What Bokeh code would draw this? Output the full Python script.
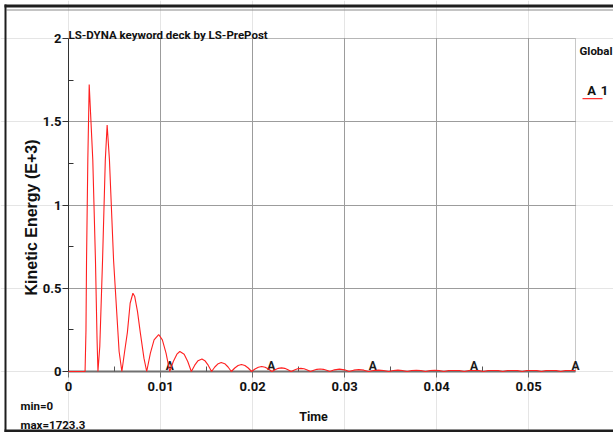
import math

from bokeh.core.properties import value
from bokeh.embed import file_html
from bokeh.models import (BoxAnnotation, ColumnDataSource, CustomJSTickFormatter,
                          FixedTicker, Grid, Label, LabelSet, LinearAxis, Range1d)
from bokeh.plotting import figure
from bokeh.resources import INLINE

# Kinetic energy history (E+3) against time (s)
time_s = [
    0.0, 0.0018, 0.0019, 0.00196, 0.0021, 0.00225, 0.0024, 0.00264, 0.00293, 0.0031, 0.0032,
    0.0034, 0.0037, 0.0040, 0.0042, 0.00445, 0.0049, 0.0055, 0.0058,
    0.0061, 0.0064, 0.0067, 0.0070, 0.0072, 0.0075, 0.0078, 0.0082, 0.0085,
    0.0089, 0.0093, 0.0098, 0.0102, 0.0106, 0.0110,
    0.01139, 0.01178, 0.0121, 0.01257, 0.01296, 0.01335,
    0.01372, 0.01408, 0.0145, 0.01482, 0.01518, 0.01555,
    0.0159, 0.01627, 0.0166, 0.01698, 0.01734, 0.0177,
    0.01807, 0.01843, 0.0188, 0.01917, 0.01953, 0.0199,
    0.02027, 0.02063, 0.0210, 0.02137, 0.02173, 0.0221,
    0.02245, 0.0228, 0.02315, 0.0235, 0.02385, 0.0242,
    0.02455, 0.0249, 0.02525, 0.0256, 0.02595, 0.0263,
    0.02665, 0.0270, 0.02735, 0.0277, 0.02805, 0.0284,
    0.0289, 0.02945, 0.0300, 0.0305,
    0.0310, 0.03155, 0.0321, 0.0326,
    0.03315, 0.0337, 0.03425, 0.0348,
    0.0353, 0.0358, 0.0363, 0.0368,
    0.0373, 0.0378, 0.0383, 0.0388,
    0.0393, 0.0398, 0.0403, 0.0408,
    0.0413, 0.0419, 0.0425, 0.0430,
    0.0435, 0.04405, 0.0446, 0.0451,
    0.0456, 0.04615, 0.0467, 0.0472,
    0.0477, 0.04825, 0.0488, 0.0493,
    0.0498, 0.05035, 0.0509, 0.0514,
    0.0519, 0.05245, 0.0530, 0.0535,
    0.0540, 0.0545, 0.0550, 0.0551,
]
kinetic_energy = [
    0.0, 0.0, 0.25, 0.667, 1.27, 1.7233, 1.55, 1.27, 0.667, 0.2, 0.0,
    0.15, 0.667, 1.27, 1.48, 1.27, 0.667, 0.12, 0.0,
    0.12, 0.235, 0.41, 0.47, 0.45, 0.36, 0.235, 0.08, 0.0,
    0.11, 0.19, 0.222, 0.19, 0.11, 0.0,
    0.06, 0.104, 0.12, 0.104, 0.06, 0.0,
    0.038, 0.065, 0.075, 0.065, 0.038, 0.0,
    0.027, 0.047, 0.054, 0.047, 0.027, 0.0,
    0.021, 0.036, 0.042, 0.036, 0.021, 0.0,
    0.015, 0.026, 0.030, 0.026, 0.015, 0.0,
    0.011, 0.019, 0.022, 0.019, 0.011, 0.0,
    0.0095, 0.0165, 0.019, 0.0165, 0.0095, 0.0,
    0.0075, 0.013, 0.015, 0.013, 0.0075, 0.0,
    0.010, 0.014, 0.010, 0.0,
    0.008, 0.011, 0.008, 0.0,
    0.006, 0.008, 0.006, 0.0,
    0.006, 0.008, 0.006, 0.0,
    0.006, 0.007, 0.006, 0.0,
    0.006, 0.007, 0.006, 0.0,
    0.006, 0.006, 0.006, 0.0,
    0.006, 0.006, 0.006, 0.0,
    0.006, 0.006, 0.006, 0.0,
    0.006, 0.006, 0.006, 0.0,
    0.006, 0.006, 0.006, 0.0,
    0.006, 0.006, 0.006, 0.0,
    0.006, 0.006, 0.006, 0.004,
]

# Curve identifier marks along the time axis
marker_time = [0.01102, 0.02204, 0.03306, 0.04408, 0.0551]
marker_text = ["A", "A", "A", "A", "A"]

x_ticks = [0.0, 0.01, 0.02, 0.03, 0.04, 0.05]
x_minor_ticks = [0.005, 0.015, 0.025, 0.035, 0.045]
y_ticks = [0.0, 0.5, 1.0, 1.5, 2.0]
y_minor_ticks = [0.25, 0.75, 1.25, 1.75]
x_max = 0.0551
y_max = 2.0

title_text = "LS-DYNA keyword deck by LS-PrePost"
x_title = "Time"
y_title = "Kinetic Energy (E+3)"
legend_title = "Global"
curve_id = "A"
curve_name = "1"
min_text = "min=0"
max_text = "max=1723.3"

# page geometry (pixels): the frame covers the whole page and the data box sits inside it
W, H = 613, 432
BOX_L, BOX_R, BOX_T, BOX_B = 68, 575, 38, 371
NARROW = "Roboto"
WIDE = "Liberation Sans"

x_scale = (BOX_R - BOX_L) / x_max
y_scale = (BOX_B - BOX_T) / y_max

p = figure(width=W, height=H, output_backend="svg", toolbar_location=None, title=None,
           x_axis_location=None, y_axis_location=None,
           x_range=Range1d(-BOX_L / x_scale, (W - BOX_L) / x_scale),
           y_range=Range1d(-(H - BOX_B) / y_scale, BOX_B / y_scale),
           min_border=0, min_border_left=0, min_border_right=0,
           min_border_top=0, min_border_bottom=0,
           background_fill_color="white", border_fill_color="white")
p.outline_line_color = None

fmt = CustomJSTickFormatter(code="return tick.toString();")

xa = LinearAxis(fixed_location=0, bounds=(0, x_max), formatter=fmt,
                ticker=FixedTicker(ticks=x_ticks, minor_ticks=x_minor_ticks))
xa.axis_line_color = "#707070"
xa.axis_line_width = 2
xa.major_tick_line_color = "#707070"
xa.major_tick_out = 6
xa.major_tick_in = 0
xa.minor_tick_line_color = "#555555"
xa.minor_tick_in = 5
xa.minor_tick_out = 0
xa.major_label_standoff = 4
xa.major_label_text_font = NARROW
xa.major_label_text_font_style = "bold"
xa.major_label_text_font_size = "13px"
xa.major_label_text_color = "#111111"
p.add_layout(xa, "below")

ya = LinearAxis(fixed_location=0, bounds=(0, y_max), formatter=fmt,
                ticker=FixedTicker(ticks=y_ticks, minor_ticks=y_minor_ticks))
ya.axis_line_color = "#333333"
ya.axis_line_width = 1
ya.major_tick_line_color = "#333333"
ya.major_tick_out = 6
ya.major_tick_in = 0
ya.minor_tick_line_color = "#333333"
ya.minor_tick_in = 5
ya.minor_tick_out = 0
ya.major_label_standoff = 1
ya.major_label_text_font = NARROW
ya.major_label_text_font_style = "bold"
ya.major_label_text_font_size = "13px"
ya.major_label_text_color = "#111111"
p.add_layout(ya, "left")

# grid lines limited to the data box
for dim, ticks, bounds, cross in [(0, x_ticks[1:], (0, x_max), (0, y_max)),
                                  (1, y_ticks[1:-1], (0, y_max), (0, x_max))]:
    g = Grid(dimension=dim, ticker=FixedTicker(ticks=ticks), bounds=bounds,
             grid_line_color="#9c9c9c", grid_line_width=1)
    g.cross_bounds = cross
    p.add_layout(g)

# top and right edges of the data box
p.add_layout(BoxAnnotation(left=0, right=x_max, bottom=0, top=y_max, fill_alpha=0,
                           line_color="#4a4a4a", line_width=1, level="underlay"))

# kinetic energy curve
p.line(time_s, kinetic_energy, line_color="#ff2020", line_width=1.1, level="overlay")

# "A" identifiers sitting on the time axis
marks = ColumnDataSource(dict(x=marker_time, y=[0.0] * len(marker_time), text=marker_text))
p.add_layout(LabelSet(x="x", y="y", text="text", source=marks, text_align="center",
                      text_baseline="bottom", text_font=value(NARROW),
                      text_font_style="bold", text_font_size="12px",
                      text_color="#1a1a1a", y_offset=-1))


def label(text, cx, cy, size, font=NARROW, align="left", baseline="alphabetic", angle=0.0,
          color="#111111"):
    p.add_layout(Label(x=cx, y=H - cy, x_units="screen", y_units="screen", text=text,
                       text_font=font, text_font_style="bold", text_font_size=size,
                       text_align=align, text_baseline=baseline, angle=angle,
                       text_color=color))


def screen_box(l, r, t, b, color):
    p.add_layout(BoxAnnotation(left=l, right=r, top=H - t, bottom=H - b,
                               left_units="screen", right_units="screen",
                               top_units="screen", bottom_units="screen",
                               fill_color=color, fill_alpha=1, line_alpha=0))


label(title_text, 68, 34, "11.5px")
label(y_title, 31, 217, "16px", font=WIDE, align="center", baseline="middle", angle=math.pi / 2)
label(x_title, 313, 416, "12.5px", align="center", baseline="middle")
label(min_text, 20, 405, "11.5px", baseline="middle")
label(max_text, 20, 424, "11.5px", baseline="middle")
label(legend_title, 579, 50, "11.5px", baseline="middle")
label(curve_id, 591, 90, "13px", align="center", baseline="middle")
label(curve_name, 604, 90, "13px", align="center", baseline="middle")

# red key under the legend entry
screen_box(582, 602, 97.5, 98.8, "#ff3030")

# window frame around the page
screen_box(4, 613, 4, 7, "#1e1e1e")
screen_box(6, 613, 9, 10, "#8a8a8a")
screen_box(4, 6, 4, 432, "#1e1e1e")
screen_box(4, 613, 429, 432, "#1e1e1e")

open("out.html", "w").write(file_html(p, INLINE))
